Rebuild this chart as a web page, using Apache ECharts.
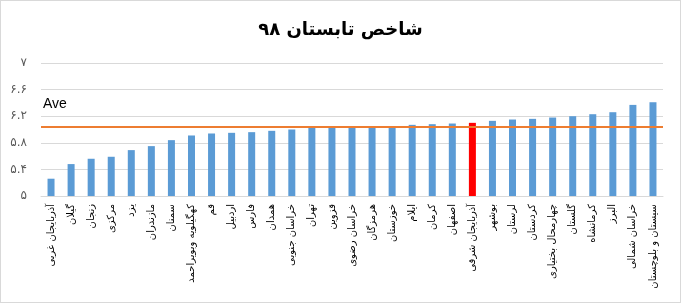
<!DOCTYPE html>
<html>
<head>
<meta charset="utf-8">
<script src="https://cdn.jsdelivr.net/npm/echarts@6/dist/echarts.min.js"></script>
<style>
html,body{margin:0;padding:0;background:#fff;}
#chart{width:681px;height:303px;box-sizing:border-box;border:1px solid #D9D9D9;}
</style>
</head>
<body>
<div id="chart"></div>
<script>
const titleText = 'شاخص تابستان ۹۸';
const categories = [
  'آذربایجان غربی','گیلان','زنجان','مرکزی','یزد','مازندران','سمنان','کهگیلویه وبویراحمد',
  'قم','اردبیل','فارس','همدان','خراسان جنوبی','تهران','قزوین','خراسان رضوی','هرمزگان',
  'خوزستان','ایلام','کرمان','اصفهان','آذربایجان شرقی','بوشهر','لرستان','کردستان',
  'چهارمحال بختیاری','گلستان','کرمانشاه','البرز','خراسان شمالی','سیستان و بلوچستان'
];
const values = [
  5.26,5.48,5.56,5.59,5.69,5.75,5.84,5.91,5.94,5.95,5.96,5.98,6.00,6.03,6.03,6.03,6.03,
  6.05,6.07,6.08,6.09,6.10,6.13,6.15,6.16,6.18,6.20,6.23,6.26,6.37,6.41
];
const highlighted = 'آذربایجان شرقی';
const aveValue = 6.04;
const aveLabel = 'Ave';
const yMin = 5, yMax = 7, yInterval = 0.4;

const faDigits = '۰۱۲۳۴۵۶۷۸۹';
function toFa(v){
  const s = (Math.round(v*10)/10).toString();
  return s.replace(/[0-9]/g, d => faDigits[+d]);
}

const chart = echarts.init(document.getElementById('chart'));
chart.setOption({
  animation:false,
  title:{
    text:titleText, left:'center', top:15,
    textStyle:{fontFamily:'DejaVu Sans', fontSize:18, fontWeight:'bold', color:'#000'}
  },
  grid:{left:40, right:17, top:62, bottom:106},
  xAxis:{
    type:'category', data:categories,
    axisLine:{lineStyle:{color:'#D9D9D9'}},
    axisTick:{show:false},
    axisLabel:{rotate:90, interval:0, fontFamily:'DejaVu Sans', fontSize:10, color:'#000', margin:8}
  },
  yAxis:{
    type:'value', min:yMin, max:yMax, interval:yInterval,
    axisLine:{show:false}, axisTick:{show:false},
    splitLine:{lineStyle:{color:'#D9D9D9'}},
    axisLabel:{formatter:toFa, fontFamily:'DejaVu Sans', fontSize:12, color:'#595959', margin:14}
  },
  graphic:[{
    type:'text', left:42, top:96,
    style:{text:aveLabel, font:'14px "Liberation Sans", Arial', fill:'#000'}
  }],
  series:[{
    type:'bar',
    barWidth:7,
    data:values.map((v,i)=>({value:v, itemStyle:{color: categories[i]===highlighted ? '#FF0000' : '#5B9BD5'}})),
    markLine:{
      silent:true, symbol:'none',
      label:{show:false},
      lineStyle:{color:'#ED7D31', width:2, type:'solid'},
      data:[{yAxis:aveValue}]
    }
  }]
});
</script>
</body>
</html>
